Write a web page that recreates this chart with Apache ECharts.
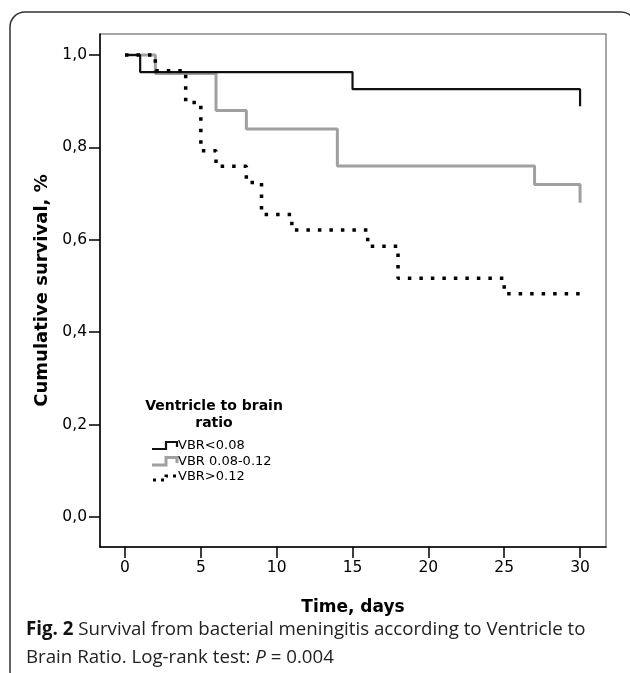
<!DOCTYPE html>
<html>
<head>
<meta charset="utf-8">
<script src="https://cdn.jsdelivr.net/npm/echarts@6/dist/echarts.min.js"></script>
<style>
  html, body { margin: 0; padding: 0; background: #fff; }
  #container { width: 630px; height: 673px; }
</style>
</head>
<body>
<div id="container"></div>
<script>
var dom = document.getElementById("container");
var myChart = echarts.init(dom);
var option;

// Kaplan-Meier steps (time in days, survival fraction)
var timeLow = [0, 1, 15, 30];
var survLow = [1, 0.963, 0.926, 0.889];

var timeMid = [0, 2, 6, 8, 14, 27, 30];
var survMid = [1, 0.96, 0.88, 0.84, 0.76, 0.72, 0.68];

var timeHigh = [0, 2, 4, 5, 6, 8, 9, 11, 16, 18, 25, 30];
var survHigh = [1, 0.966, 0.897, 0.793, 0.759, 0.724, 0.655, 0.621, 0.586, 0.517, 0.483, 0.483];

var xTicks = [0, 5, 10, 15, 20, 25, 30];
var yTicks = [0, 0.2, 0.4, 0.6, 0.8, 1.0];

var legendNames = ["VBR<0.08", "VBR 0.08-0.12", "VBR>0.12"];

// pair up times and values for the line series
function makePoints(t, s) {
  var pts = [];
  for (var i = 0; i < t.length; i++) {
    pts.push([t[i], s[i]]);
  }
  return pts;
}

var axisFont = "DejaVu Sans";
var capFont = "Open Sans";

option = {
  animation: false,
  backgroundColor: "#fff",
  grid: {
    left: 100,
    top: 34,
    right: 24,
    bottom: 126,
    show: true,
    borderColor: "#8a8a8a",
    borderWidth: 1.5
  },
  xAxis: {
    type: "value",
    min: -1.648,
    max: 31.71,
    name: "Time, days",
    nameLocation: "middle",
    nameGap: 52,
    nameTextStyle: { fontFamily: axisFont, fontWeight: "bold", fontSize: 17, color: "#000" },
    axisLine: { show: true, onZero: false, lineStyle: { color: "#000", width: 1.5 } },
    axisTick: { show: true, length: 11, customValues: xTicks, lineStyle: { color: "#000", width: 1.5 } },
    axisLabel: { customValues: xTicks, fontFamily: axisFont, fontSize: 15.5, color: "#000", margin: 13 },
    splitLine: { show: false }
  },
  yAxis: {
    type: "value",
    min: -0.0649,
    max: 1.0455,
    name: "Cumulative survival, %",
    nameLocation: "middle",
    nameGap: 48,
    nameTextStyle: { fontFamily: axisFont, fontWeight: "bold", fontSize: 18, color: "#000" },
    axisLine: { show: true, onZero: false, lineStyle: { color: "#000", width: 1.5 } },
    axisTick: { show: true, length: 11, customValues: yTicks, lineStyle: { color: "#000", width: 1.5 } },
    axisLabel: {
      customValues: yTicks,
      fontFamily: axisFont,
      fontSize: 15.5,
      color: "#000",
      margin: 13,
      formatter: function (v) { return v.toFixed(1).replace(".", ","); }
    },
    splitLine: { show: false }
  },
  series: [
    {
      name: legendNames[1],
      type: "line",
      step: "end",
      symbol: "none",
      data: makePoints(timeMid, survMid),
      lineStyle: { color: "#a0a0a0", width: 3 },
      z: 2
    },
    {
      name: legendNames[0],
      type: "line",
      step: "end",
      symbol: "none",
      data: makePoints(timeLow, survLow),
      lineStyle: { color: "#111", width: 2.2 },
      z: 3
    },
    {
      name: legendNames[2],
      type: "line",
      step: "end",
      symbol: "none",
      data: makePoints(timeHigh, survHigh),
      lineStyle: { color: "#000", width: 3.5, type: [3.5, 8], cap: "butt" },
      z: 4
    }
  ],
  graphic: [
    {
      type: "rect",
      shape: { x: 10, y: 12, width: 626, height: 674, r: 15 },
      style: { fill: "none", stroke: "#333", lineWidth: 1.5 },
      silent: true
    },
    // legend block
    {
      type: "text",
      x: 214, y: 398,
      style: {
        text: "Ventricle to brain\nratio",
        align: "center",
        fontFamily: axisFont, fontWeight: "bold", fontSize: 14, lineHeight: 17, fill: "#000"
      }
    },
    {
      type: "polyline",
      shape: { points: [[152, 449], [166, 449], [166, 442], [177, 442], [177, 447]] },
      style: { stroke: "#111", lineWidth: 2.2, fill: "none" }
    },
    {
      type: "polyline",
      shape: { points: [[152, 465], [166, 465], [166, 457.5], [177, 457.5], [177, 463]] },
      style: { stroke: "#a0a0a0", lineWidth: 3, fill: "none" }
    },
    {
      type: "polyline",
      shape: { points: [[153, 480], [166, 480], [166, 476], [177, 476]] },
      style: { stroke: "#000", lineWidth: 3, fill: "none", lineDash: [3, 5] }
    },
    {
      type: "text", x: 178, y: 439,
      style: { text: legendNames[0], fontFamily: axisFont, fontSize: 13, fill: "#000" }
    },
    {
      type: "text", x: 178, y: 455,
      style: { text: legendNames[1], fontFamily: axisFont, fontSize: 13, fill: "#000" }
    },
    {
      type: "text", x: 178, y: 470,
      style: { text: legendNames[2], fontFamily: axisFont, fontSize: 13, fill: "#000" }
    },
    // caption
    {
      type: "text", x: 26, y: 630,
      style: {
        text: "{b|Fig. 2} Survival from bacterial meningitis according to Ventricle to",
        fontFamily: capFont, fontSize: 18.7, fill: "#222", verticalAlign: "middle",
        rich: { b: { fontFamily: capFont, fontWeight: "bold", fontSize: 18.7, fill: "#111" } }
      }
    },
    {
      type: "text", x: 26, y: 658,
      style: {
        text: "Brain Ratio. Log-rank test: {i|P} = 0.004",
        fontFamily: capFont, fontSize: 18.7, fill: "#222", verticalAlign: "middle",
        rich: { i: { fontFamily: capFont, fontStyle: "italic", fontSize: 18.7, fill: "#222" } }
      }
    }
  ]
};

myChart.setOption(option);
</script>
</body>
</html>
